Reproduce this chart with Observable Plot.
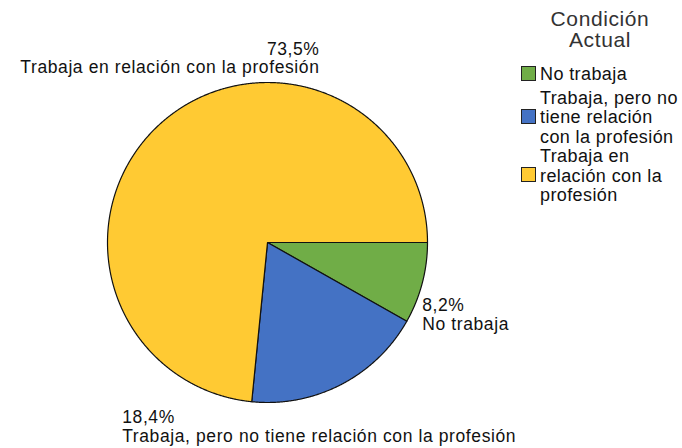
<!DOCTYPE html>
<html>
<head>
<meta charset="utf-8">
<script src="https://cdn.jsdelivr.net/npm/d3@7"></script>
<script src="https://cdn.jsdelivr.net/npm/@observablehq/plot@0.6"></script>
<style>
  html, body { margin: 0; padding: 0; background: #fff; }
  body { font-family: "Liberation Sans", Arial, sans-serif; }
  #wrap { position: relative; width: 682px; height: 448px; overflow: hidden; }
  #chart { position: absolute; left: 0; top: 0; }
  #legend { position: absolute; left: 519px; top: 0; width: 162px; color: #111; }
  #legend .title { position: absolute; left: 0; top: 8px; width: 162px; text-align: center;
    font-size: 21px; line-height: 21px; letter-spacing: 0.6px; color: #333; white-space: pre; }
  #legend .items { position: absolute; left: 2px; top: 65px; width: 160px; }
  #legend .item { display: flex; align-items: center; }
  #legend .item + .item { margin-top: 4px; }
  #legend .item:nth-child(3) { margin-top: 0; }
  #legend .sw { width: 13px; height: 13px; border: 1px solid #222; margin-right: 4px; flex: none;
    position: relative; top: -1.5px; }
  #legend .txt { font-size: 18px; line-height: 19.5px; letter-spacing: 0.4px; white-space: pre; }
</style>
</head>
<body>
<div id="wrap"><div id="chart"></div><div id="legend"></div></div>
<script>
// ---- data ----
const categories = [
  "No trabaja",
  "Trabaja, pero no tiene relación con la profesión",
  "Trabaja en relación con la profesión"
];
const percents = [8.2, 18.4, 73.5];
const percentLabels = ["8,2%", "18,4%", "73,5%"];
const legendLabels = [
  "No trabaja",
  "Trabaja, pero no\ntiene relación\ncon la profesión",
  "Trabaja en\nrelación con la\nprofesión"
];
const colors = ["#70ad47", "#4472c4", "#ffca33"];
const legendTitle = "Condición\nActual";

// ---- layout (not data) ----
const cx = 267, cy = 242, R = 160;
// label anchor positions in pie-radius units, and anchors
const labelLayout = [
  { x: 0.967, y: -0.344, textAnchor: "start", lineAnchor: "top" },
  { x: -0.908, y: -1.044, textAnchor: "start", lineAnchor: "top" },
  { x: 0.325, y: 1.058, textAnchor: "end", lineAnchor: "bottom" }
];

// ---- build slice polygons via d3.pie ----
const arcs = d3.pie().sort(null)
  .startAngle(Math.PI / 2)
  .endAngle(Math.PI / 2 + 2 * Math.PI)(percents);

const polyPoints = [];
arcs.forEach((a, i) => {
  const cat = categories[i];
  polyPoints.push({ cat, x: 0, y: 0 });
  const step = Math.PI / 720;
  const n = Math.max(2, Math.ceil((a.endAngle - a.startAngle) / step));
  for (let k = 0; k <= n; k++) {
    const t = a.startAngle + (a.endAngle - a.startAngle) * k / n;
    polyPoints.push({ cat, x: Math.sin(t), y: Math.cos(t) });
  }
  polyPoints.push({ cat, x: 0, y: 0 });
});

const labels = categories.map((c, i) => ({
  cat: c,
  text: percentLabels[i] + "\n" + c,
  ...labelLayout[i]
}));

const textOpts = {
  x: "x", y: "y", text: "text", fill: "#111", fontSize: 17.5, lineHeight: 1.07
};

const chart = Plot.plot({
  width: 682,
  height: 448,
  margin: 0,
  x: { domain: [-1, 1], range: [cx - R, cx + R], axis: null },
  y: { domain: [-1, 1], range: [cy + R, cy - R], axis: null },
  color: { domain: categories, range: colors },
  style: { fontFamily: "'Liberation Sans', Arial, sans-serif", letterSpacing: "0.6px", background: "#fff", overflow: "visible" },
  marks: [
    Plot.line(polyPoints, { x: "x", y: "y", z: "cat", fill: "cat", stroke: "#111", strokeWidth: 1.2, strokeLinejoin: "round" }),
    Plot.text(labels.filter(d => d.textAnchor === "start" && d.lineAnchor === "top"), { ...textOpts, textAnchor: "start", lineAnchor: "top" }),
    Plot.text(labels.filter(d => d.textAnchor === "end"), { ...textOpts, textAnchor: "end", lineAnchor: "bottom" })
  ]
});
document.getElementById("chart").appendChild(chart);

// ---- legend ----
const legend = d3.select("#legend");
legend.append("div").attr("class", "title").text(legendTitle);
const items = legend.append("div").attr("class", "items")
  .selectAll("div").data(categories).join("div").attr("class", "item");
items.append("div").attr("class", "sw").style("background", (d, i) => colors[i]);
items.append("div").attr("class", "txt").text((d, i) => legendLabels[i]);
</script>
</body>
</html>
